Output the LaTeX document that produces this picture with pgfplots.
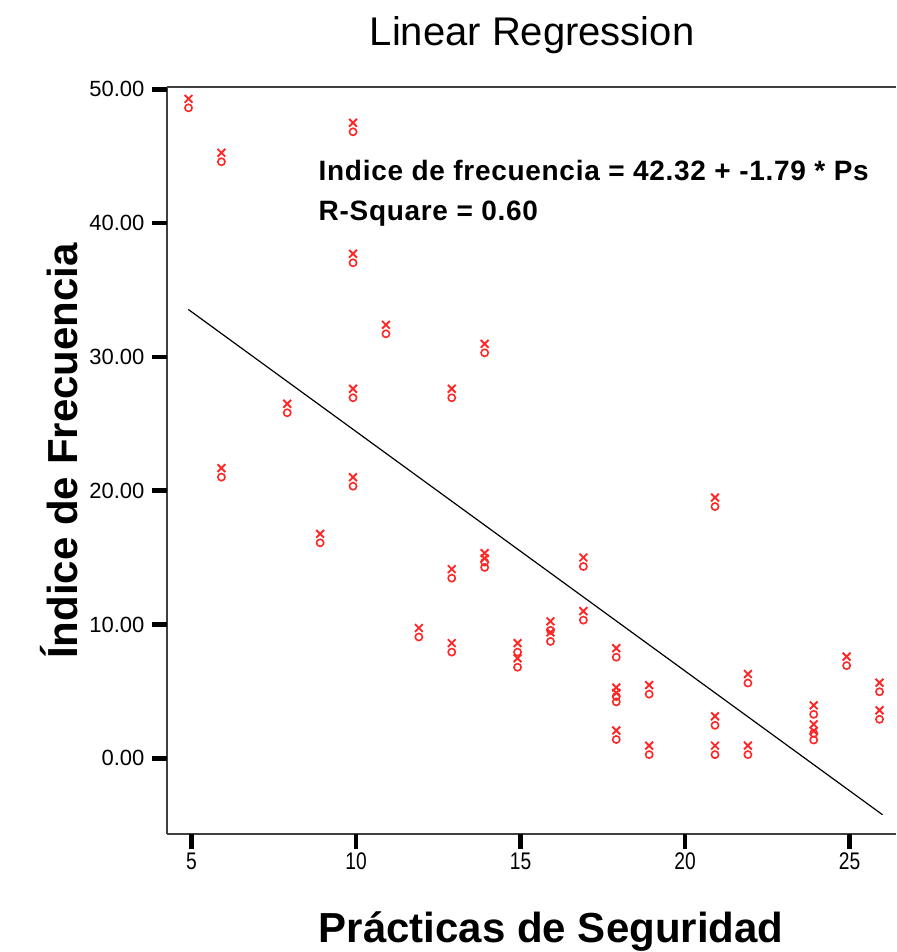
\documentclass[border=0pt]{standalone}
\usepackage{fontspec}
\setmainfont{Liberation Sans}
\usepackage{pgfplots}
\usepackage{pgfplotstable}
\pgfplotsset{compat=1.18}

\pgfplotstableread{
ps  indice
5   48.95
6   44.92
6   21.35
8   26.16
9   16.44
10  47.16
10  37.37
10  27.28
10  20.67
11  32.06
12  9.40
13  27.28
13  13.80
13  8.27
14  30.64
14  14.60
14  15.00
15  8.27
15  7.14
16  9.90
16  9.07
17  14.67
17  10.66
18  7.89
18  4.95
18  4.55
18  1.74
19  5.13
19  0.61
21  19.15
21  2.80
21  0.61
22  5.96
22  0.61
24  3.62
24  2.20
24  1.70
25  7.26
26  5.31
26  3.25
}\puntos

\begin{document}
\begin{tikzpicture}
\useasboundingbox (-167pt,-118pt) rectangle (729pt,834pt);
\begin{axis}[
  at={(0pt,0pt)}, anchor=south west,
  scale only axis, width=729pt, height=746.7pt,
  xmin=4.255, xmax=26.41, ymin=-5.66, ymax=50.15,
  axis x line=box, axis y line=left,
  axis line style={-, line width=1.6pt, black!75},
  xtick={5,10,...,25}, ytick={0,10,...,50},
  tick align=outside, xtick pos=left, ytick pos=left,
  major tick length=15pt,
  /pgf/number format/assume math mode=true,
  yticklabel style={font=\fontsize{22}{24}\selectfont, xshift=-4pt,
    /pgf/number format/.cd, fixed, fixed zerofill, precision=2},
  xticklabel style={font=\fontsize{24}{26}\selectfont, xscale=0.8},
  clip=false,
]
% heavy tick marks as in the original
\pgfplotsinvokeforeach{5,10,15,20,25}{
  \draw[line width=4.5pt, black] (axis cs:#1,-5.66) -- ++(0pt,-15pt);
}
\pgfplotsinvokeforeach{0,10,20,30,40,50}{
  \draw[line width=4.5pt, black] (axis cs:4.255,#1) -- ++(-15pt,0pt);
}
\addplot[black, line width=1.2pt] coordinates {(4.9,33.55) (26,-4.22)};
\addplot[only marks, mark=x, mark size=5.5pt, red!85!white, line width=1.9pt,
  mark options={yshift=4.5pt, xshift=-3pt}] table[x=ps, y=indice] {\puntos};
\addplot[only marks, mark=o, mark size=3.6pt, red!85!white, line width=1.6pt,
  mark options={yshift=-4.5pt, xshift=-3pt}] table[x=ps, y=indice] {\puntos};

\node[font=\fontsize{40}{44}\selectfont, anchor=base] at (axis cs:15.35,53.3) {Linear Regression};
\node[font=\bfseries\fontsize{42}{46}\selectfont, rotate=90, anchor=base] at (axis cs:1.52,22.97) {Índice de Frecuencia};
\node[font=\bfseries\fontsize{42}{46}\selectfont, anchor=base] at (axis cs:15.93,-13.75) {Prácticas de Seguridad};
\node[font=\bfseries\fontsize{28}{30}\selectfont\addfontfeature{LetterSpace=2.5}, anchor=base west, inner sep=0pt] at (axis cs:8.86,43.15) {Indice de frecuencia = 42.32 + -1.79 * Ps};
\node[font=\bfseries\fontsize{28}{30}\selectfont\addfontfeature{LetterSpace=2.5}, anchor=base west, inner sep=0pt] at (axis cs:8.86,40.23) {R-Square = 0.60};
\end{axis}
\end{tikzpicture}
\end{document}
